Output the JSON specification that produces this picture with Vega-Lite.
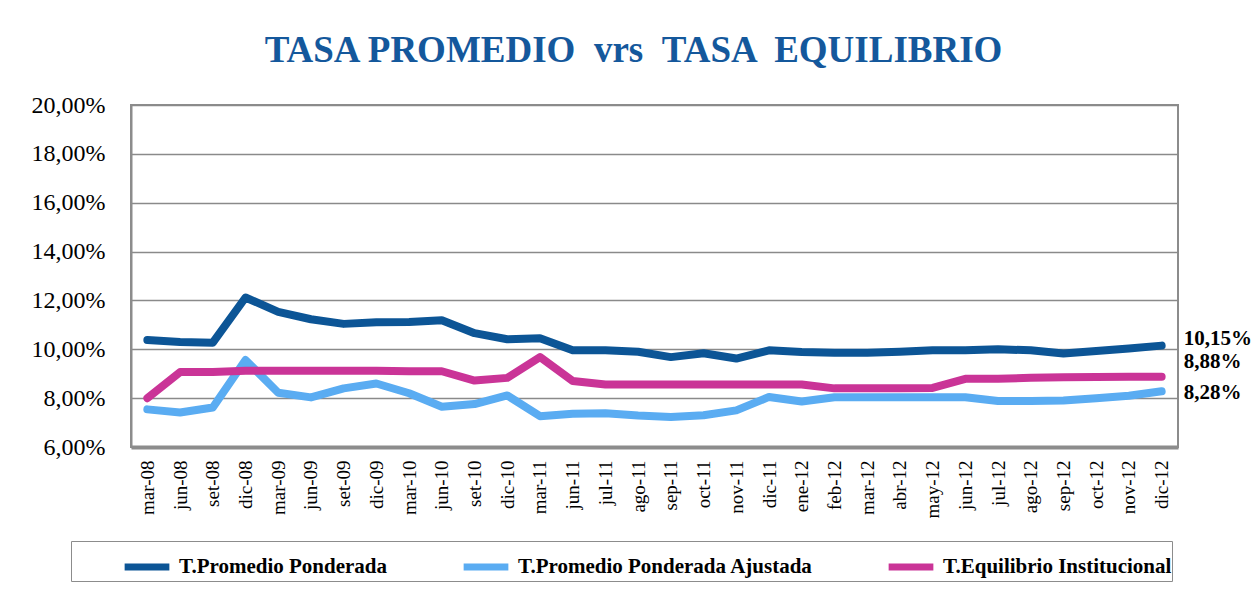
{
  "$schema": "https://vega.github.io/schema/vega-lite/v6.json",
  "autosize": {"type": "none"},
  "width": 1047,
  "height": 342,
  "padding": {"left": 131, "top": 105, "right": 77, "bottom": 151},
  "background": "white",
  "title": {
    "text": "TASA PROMEDIO \u00a0vrs \u00a0TASA \u00a0EQUILIBRIO",
    "font": "Liberation Serif",
    "fontSize": 37,
    "fontWeight": "bold",
    "color": "#14589c",
    "anchor": "middle",
    "dx": -21,
    "baseline": "alphabetic",
    "offset": -6
  },
  "config": {
    "view": {"stroke": "#8c8c8c", "strokeWidth": 2, "fill": "white"},
    "font": "Liberation Serif",
    "locale": {"number": {"decimal": ",", "thousands": ".", "grouping": [3], "currency": ["", "%"]}}
  },
  "data": {
    "values": [
      {"fecha": "mar-08", "serie": "T.Promedio Ponderada", "valor": 10.38},
      {"fecha": "mar-08", "serie": "T.Promedio Ponderada Ajustada", "valor": 7.54},
      {"fecha": "mar-08", "serie": "T.Equilibrio Institucional", "valor": 8.0},
      {"fecha": "jun-08", "serie": "T.Promedio Ponderada", "valor": 10.3},
      {"fecha": "jun-08", "serie": "T.Promedio Ponderada Ajustada", "valor": 7.41},
      {"fecha": "jun-08", "serie": "T.Equilibrio Institucional", "valor": 9.07},
      {"fecha": "set-08", "serie": "T.Promedio Ponderada", "valor": 10.27},
      {"fecha": "set-08", "serie": "T.Promedio Ponderada Ajustada", "valor": 7.62},
      {"fecha": "set-08", "serie": "T.Equilibrio Institucional", "valor": 9.07},
      {"fecha": "dic-08", "serie": "T.Promedio Ponderada", "valor": 12.12},
      {"fecha": "dic-08", "serie": "T.Promedio Ponderada Ajustada", "valor": 9.56},
      {"fecha": "dic-08", "serie": "T.Equilibrio Institucional", "valor": 9.12},
      {"fecha": "mar-09", "serie": "T.Promedio Ponderada", "valor": 11.53},
      {"fecha": "mar-09", "serie": "T.Promedio Ponderada Ajustada", "valor": 8.22},
      {"fecha": "mar-09", "serie": "T.Equilibrio Institucional", "valor": 9.12},
      {"fecha": "jun-09", "serie": "T.Promedio Ponderada", "valor": 11.23},
      {"fecha": "jun-09", "serie": "T.Promedio Ponderada Ajustada", "valor": 8.03},
      {"fecha": "jun-09", "serie": "T.Equilibrio Institucional", "valor": 9.12},
      {"fecha": "set-09", "serie": "T.Promedio Ponderada", "valor": 11.04},
      {"fecha": "set-09", "serie": "T.Promedio Ponderada Ajustada", "valor": 8.4},
      {"fecha": "set-09", "serie": "T.Equilibrio Institucional", "valor": 9.12},
      {"fecha": "dic-09", "serie": "T.Promedio Ponderada", "valor": 11.11},
      {"fecha": "dic-09", "serie": "T.Promedio Ponderada Ajustada", "valor": 8.6},
      {"fecha": "dic-09", "serie": "T.Equilibrio Institucional", "valor": 9.12},
      {"fecha": "mar-10", "serie": "T.Promedio Ponderada", "valor": 11.12},
      {"fecha": "mar-10", "serie": "T.Promedio Ponderada Ajustada", "valor": 8.2},
      {"fecha": "mar-10", "serie": "T.Equilibrio Institucional", "valor": 9.1},
      {"fecha": "jun-10", "serie": "T.Promedio Ponderada", "valor": 11.19},
      {"fecha": "jun-10", "serie": "T.Promedio Ponderada Ajustada", "valor": 7.65},
      {"fecha": "jun-10", "serie": "T.Equilibrio Institucional", "valor": 9.1},
      {"fecha": "set-10", "serie": "T.Promedio Ponderada", "valor": 10.66},
      {"fecha": "set-10", "serie": "T.Promedio Ponderada Ajustada", "valor": 7.76},
      {"fecha": "set-10", "serie": "T.Equilibrio Institucional", "valor": 8.72},
      {"fecha": "dic-10", "serie": "T.Promedio Ponderada", "valor": 10.41},
      {"fecha": "dic-10", "serie": "T.Promedio Ponderada Ajustada", "valor": 8.11},
      {"fecha": "dic-10", "serie": "T.Equilibrio Institucional", "valor": 8.83},
      {"fecha": "mar-11", "serie": "T.Promedio Ponderada", "valor": 10.45},
      {"fecha": "mar-11", "serie": "T.Promedio Ponderada Ajustada", "valor": 7.26},
      {"fecha": "mar-11", "serie": "T.Equilibrio Institucional", "valor": 9.68},
      {"fecha": "jun-11", "serie": "T.Promedio Ponderada", "valor": 9.96},
      {"fecha": "jun-11", "serie": "T.Promedio Ponderada Ajustada", "valor": 7.36},
      {"fecha": "jun-11", "serie": "T.Equilibrio Institucional", "valor": 8.7},
      {"fecha": "jul-11", "serie": "T.Promedio Ponderada", "valor": 9.96},
      {"fecha": "jul-11", "serie": "T.Promedio Ponderada Ajustada", "valor": 7.38},
      {"fecha": "jul-11", "serie": "T.Equilibrio Institucional", "valor": 8.56},
      {"fecha": "ago-11", "serie": "T.Promedio Ponderada", "valor": 9.9},
      {"fecha": "ago-11", "serie": "T.Promedio Ponderada Ajustada", "valor": 7.29},
      {"fecha": "ago-11", "serie": "T.Equilibrio Institucional", "valor": 8.56},
      {"fecha": "sep-11", "serie": "T.Promedio Ponderada", "valor": 9.68},
      {"fecha": "sep-11", "serie": "T.Promedio Ponderada Ajustada", "valor": 7.23},
      {"fecha": "sep-11", "serie": "T.Equilibrio Institucional", "valor": 8.56},
      {"fecha": "oct-11", "serie": "T.Promedio Ponderada", "valor": 9.84},
      {"fecha": "oct-11", "serie": "T.Promedio Ponderada Ajustada", "valor": 7.3},
      {"fecha": "oct-11", "serie": "T.Equilibrio Institucional", "valor": 8.56},
      {"fecha": "nov-11", "serie": "T.Promedio Ponderada", "valor": 9.62},
      {"fecha": "nov-11", "serie": "T.Promedio Ponderada Ajustada", "valor": 7.5},
      {"fecha": "nov-11", "serie": "T.Equilibrio Institucional", "valor": 8.56},
      {"fecha": "dic-11", "serie": "T.Promedio Ponderada", "valor": 9.96},
      {"fecha": "dic-11", "serie": "T.Promedio Ponderada Ajustada", "valor": 8.05},
      {"fecha": "dic-11", "serie": "T.Equilibrio Institucional", "valor": 8.56},
      {"fecha": "ene-12", "serie": "T.Promedio Ponderada", "valor": 9.89},
      {"fecha": "ene-12", "serie": "T.Promedio Ponderada Ajustada", "valor": 7.86},
      {"fecha": "ene-12", "serie": "T.Equilibrio Institucional", "valor": 8.56},
      {"fecha": "feb-12", "serie": "T.Promedio Ponderada", "valor": 9.86},
      {"fecha": "feb-12", "serie": "T.Promedio Ponderada Ajustada", "valor": 8.04},
      {"fecha": "feb-12", "serie": "T.Equilibrio Institucional", "valor": 8.4},
      {"fecha": "mar-12", "serie": "T.Promedio Ponderada", "valor": 9.86},
      {"fecha": "mar-12", "serie": "T.Promedio Ponderada Ajustada", "valor": 8.04},
      {"fecha": "mar-12", "serie": "T.Equilibrio Institucional", "valor": 8.4},
      {"fecha": "abr-12", "serie": "T.Promedio Ponderada", "valor": 9.9},
      {"fecha": "abr-12", "serie": "T.Promedio Ponderada Ajustada", "valor": 8.04},
      {"fecha": "abr-12", "serie": "T.Equilibrio Institucional", "valor": 8.4},
      {"fecha": "may-12", "serie": "T.Promedio Ponderada", "valor": 9.96},
      {"fecha": "may-12", "serie": "T.Promedio Ponderada Ajustada", "valor": 8.04},
      {"fecha": "may-12", "serie": "T.Equilibrio Institucional", "valor": 8.42},
      {"fecha": "jun-12", "serie": "T.Promedio Ponderada", "valor": 9.96},
      {"fecha": "jun-12", "serie": "T.Promedio Ponderada Ajustada", "valor": 8.04},
      {"fecha": "jun-12", "serie": "T.Equilibrio Institucional", "valor": 8.79},
      {"fecha": "jul-12", "serie": "T.Promedio Ponderada", "valor": 10.0},
      {"fecha": "jul-12", "serie": "T.Promedio Ponderada Ajustada", "valor": 7.88},
      {"fecha": "jul-12", "serie": "T.Equilibrio Institucional", "valor": 8.79},
      {"fecha": "ago-12", "serie": "T.Promedio Ponderada", "valor": 9.96},
      {"fecha": "ago-12", "serie": "T.Promedio Ponderada Ajustada", "valor": 7.88},
      {"fecha": "ago-12", "serie": "T.Equilibrio Institucional", "valor": 8.83},
      {"fecha": "sep-12", "serie": "T.Promedio Ponderada", "valor": 9.83},
      {"fecha": "sep-12", "serie": "T.Promedio Ponderada Ajustada", "valor": 7.9},
      {"fecha": "sep-12", "serie": "T.Equilibrio Institucional", "valor": 8.86},
      {"fecha": "oct-12", "serie": "T.Promedio Ponderada", "valor": 9.93},
      {"fecha": "oct-12", "serie": "T.Promedio Ponderada Ajustada", "valor": 8.0},
      {"fecha": "oct-12", "serie": "T.Equilibrio Institucional", "valor": 8.87},
      {"fecha": "nov-12", "serie": "T.Promedio Ponderada", "valor": 10.03},
      {"fecha": "nov-12", "serie": "T.Promedio Ponderada Ajustada", "valor": 8.1},
      {"fecha": "nov-12", "serie": "T.Equilibrio Institucional", "valor": 8.88},
      {"fecha": "dic-12", "serie": "T.Promedio Ponderada", "valor": 10.15},
      {"fecha": "dic-12", "serie": "T.Promedio Ponderada Ajustada", "valor": 8.28},
      {"fecha": "dic-12", "serie": "T.Equilibrio Institucional", "valor": 8.88}
    ]
  },
  "encoding": {
    "x": {
      "field": "fecha",
      "type": "ordinal",
      "sort": null,
      "scale": {"type": "point", "padding": 0.5},
      "axis": {
        "title": null,
        "labelAngle": -90,
        "labelAlign": "right",
        "labelBaseline": "middle",
        "labelFont": "Liberation Serif",
        "labelFontSize": 19,
        "labelColor": "black",
        "labelPadding": 13,
        "ticks": false,
        "domainColor": "#8c8c8c",
        "domainWidth": 4,
        "grid": false
      }
    },
    "y": {
      "field": "valor",
      "type": "quantitative",
      "scale": {"domain": [6, 20], "nice": false, "zero": false},
      "axis": {
        "title": null,
        "values": [6, 8, 10, 12, 14, 16, 18, 20],
        "format": "$.2f",
        "labelFont": "Liberation Serif",
        "labelFontSize": 24,
        "labelColor": "black",
        "labelPadding": 26,
        "ticks": false,
        "domainColor": "#8c8c8c",
        "domainWidth": 2,
        "grid": true,
        "gridColor": "#8a8a8a",
        "gridWidth": 1.5
      }
    }
  },
  "layer": [
    {
      "mark": {"type": "line", "strokeWidth": 8, "strokeCap": "round", "strokeJoin": "round"},
      "encoding": {
        "color": {
          "field": "serie",
          "type": "nominal",
          "scale": {
            "domain": ["T.Promedio Ponderada", "T.Promedio Ponderada Ajustada", "T.Equilibrio Institucional"],
            "range": ["#0c5596", "#5aacf2", "#ca3497"]
          },
          "legend": {
            "title": null,
            "orient": "none",
            "legendX": -60,
            "legendY": 436,
            "direction": "horizontal",
            "columns": 3,
            "symbolType": "stroke",
            "symbolStrokeWidth": 7,
            "symbolSize": 2000,
            "symbolOffset": 50,
            "columnPadding": 22,
            "labelFont": "Liberation Serif",
            "labelFontSize": 21,
            "labelFontWeight": "bold",
            "labelColor": "black",
            "labelLimit": 500,
            "labelOffset": 6,
            "padding": 0,
            "strokeColor": "#8c8c8c",
            "fillColor": "white"
          }
        }
      }
    },
    {
      "transform": [{"filter": "datum.fecha == 'dic-12' && datum.serie == 'T.Promedio Ponderada'"}],
      "mark": {"type": "text", "align": "left", "dx": 22, "dy": -7, "font": "Liberation Serif", "fontSize": 21, "fontWeight": "bold", "color": "black"},
      "encoding": {"text": {"field": "valor", "type": "quantitative", "format": "$.2f"}}
    },
    {
      "transform": [{"filter": "datum.fecha == 'dic-12' && datum.serie == 'T.Equilibrio Institucional'"}],
      "mark": {"type": "text", "align": "left", "dx": 22, "dy": -15, "font": "Liberation Serif", "fontSize": 21, "fontWeight": "bold", "color": "black"},
      "encoding": {"text": {"field": "valor", "type": "quantitative", "format": "$.2f"}}
    },
    {
      "transform": [{"filter": "datum.fecha == 'dic-12' && datum.serie == 'T.Promedio Ponderada Ajustada'"}],
      "mark": {"type": "text", "align": "left", "dx": 22, "dy": 2, "font": "Liberation Serif", "fontSize": 21, "fontWeight": "bold", "color": "black"},
      "encoding": {"text": {"field": "valor", "type": "quantitative", "format": "$.2f"}}
    }
  ]
}
